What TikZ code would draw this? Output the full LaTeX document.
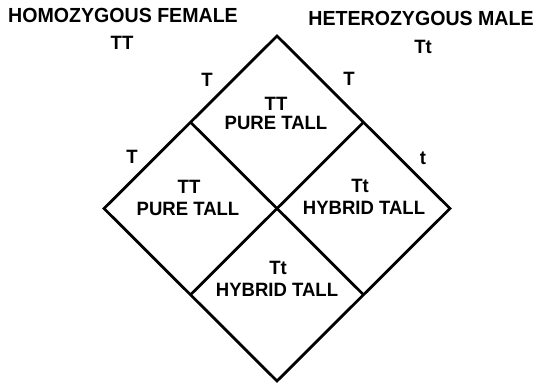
\documentclass[tikz,border=0pt]{standalone}
\usepackage{fontspec}
\setmainfont{Liberation Sans}
\newfontfamily\lblfont[FakeStretch=0.96]{Liberation Sans Bold}
\tikzset{
  grid/.style={line width=2.8pt, line join=miter, black},
  lbl/.style={inner sep=0pt, font=\lblfont\fontsize{19.3}{19.3}\selectfont},
  head/.style={inner sep=0pt, font=\lblfont\fontsize{20.4}{20.4}\selectfont},
}
\begin{document}
\begin{tikzpicture}[x=1pt,y=-1pt]
\useasboundingbox (0,0) rectangle (545,383);
% diamond corners
\coordinate (top) at (277,36);
\coordinate (lft) at (104,208.5);
\coordinate (rgt) at (450,208.5);
\coordinate (bot) at (277,381);
\coordinate (ul) at (190.5,122.25);
\coordinate (ur) at (363.5,122.25);
\coordinate (ll) at (190.5,294.75);
\coordinate (lr) at (363.5,294.75);
\draw[grid] (top) -- (rgt) -- (bot) -- (lft) -- cycle;
\draw[grid] (ul) -- (lr);
\draw[grid] (ur) -- (ll);
% headings
\node[head] (female) at (123,15) {HOMOZYGOUS FEMALE};
\node[head] (male) at (421,18) {HETEROZYGOUS MALE};
\node[lbl] (fgen) at (122,43) {TT};
\node[lbl] (mgen) at (423,46.5) {Tt};
% gametes
\node[lbl] (g1) at (207,80) {T};
\node[lbl] (g2) at (132,157) {T};
\node[lbl] (g3) at (349,79) {T};
\node[lbl] (g4) at (423,158) {t};
% cells
\node[lbl] (c1a) at (276,104) {TT};
\node[lbl] (c1b) at (276,123) {PURE TALL};
\node[lbl] (c2a) at (189,187) {TT};
\node[lbl] (c2b) at (188,209) {PURE TALL};
\node[lbl] (c3a) at (360,186) {Tt};
\node[lbl] (c3b) at (364,207.5) {HYBRID TALL};
\node[lbl] (c4a) at (278,268) {Tt};
\node[lbl] (c4b) at (277,289.5) {HYBRID TALL};
\end{tikzpicture}
\end{document}
